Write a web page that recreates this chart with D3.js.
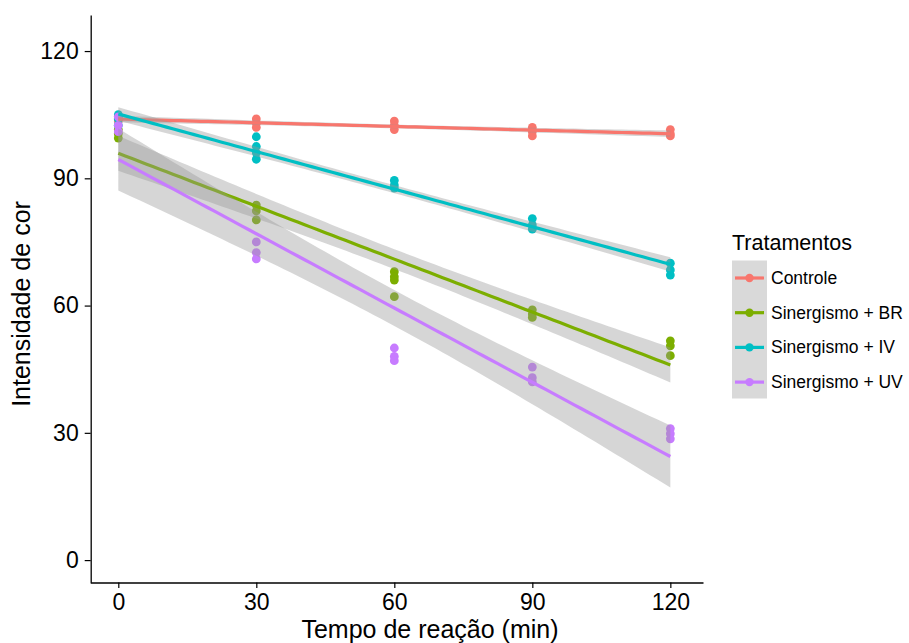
<!DOCTYPE html>
<html><head><meta charset="utf-8">
<script src="https://cdn.jsdelivr.net/npm/d3@7"></script>
<style>body{margin:0;background:#fff}svg{display:block;font-family:"Liberation Sans",Arial,sans-serif}</style>
</head><body><svg id="c" width="909" height="643"></svg>
<script>
const times = [0, 30, 60, 90, 120];
const seriesNames = ["Controle", "Sinergismo + BR", "Sinergismo + IV", "Sinergismo + UV"];
const colors = ["#F8766D", "#7CAE00", "#00BFC4", "#C77CFF"];
// replicate values per time point
const controle = [[104.5, 104, 103.5], [104, 103, 102], [103.5, 102.5, 101.5], [102, 101, 100], [101.5, 100.5, 100]];
const sinBR = [[101.5, 100.5, 99.5], [83.7, 82.3, 80.2], [68, 66.8, 66, 62.1], [59, 58, 57.2], [51.7, 50.5, 48.2]];
const sinIV = [[105, 104, 102.5], [99.8, 97.5, 96, 94.5], [89.5, 88.4, 87.7], [80.5, 79, 78], [70, 68.4, 67.2]];
const sinUV = [[104.5, 102.5, 101], [75, 72.5, 71], [50, 48, 47], [45.5, 43, 42], [31, 29.8, 28.6]];
const yTicks = [0, 30, 60, 90, 120];
const xTicks = [0, 30, 60, 90, 120];

const seriesData = [controle, sinBR, sinIV, sinUV];
const svg = d3.select("#c");
const x = d3.scaleLinear().domain([-6, 127.1]).range([90.7, 703]);
const y = d3.scaleLinear().domain([-5.4, 128.5]).range([583, 15]);

const tTable = {10:2.228,11:2.201,12:2.179,13:2.160,14:2.145,15:2.131,16:2.120,17:2.110,18:2.101,19:2.093,20:2.086};

function fit(data) {
  const pts = [];
  data.forEach((vals, i) => vals.forEach(v => pts.push([times[i], v])));
  const n = pts.length;
  const xb = d3.mean(pts, p => p[0]), yb = d3.mean(pts, p => p[1]);
  let sxx = 0, sxy = 0;
  pts.forEach(p => { sxx += (p[0]-xb)**2; sxy += (p[0]-xb)*(p[1]-yb); });
  const b = sxy / sxx, a = yb - b * xb;
  let sse = 0; pts.forEach(p => { sse += (p[1] - a - b*p[0])**2; });
  const s = Math.sqrt(sse / (n - 2));
  const t = tTable[n - 2] || 2.1;
  const grid = d3.range(0, 120.001, 1.5).map(xx => {
    const f = a + b * xx;
    const se = s * Math.sqrt(1/n + (xx-xb)**2 / sxx);
    return {x: xx, f, lo: f - t*se, hi: f + t*se};
  });
  return {pts, grid};
}
const fits = seriesData.map(fit);

// points layer
fits.forEach((f, i) => {
  svg.append("g").selectAll("circle").data(f.pts).join("circle")
    .attr("cx", d => x(d[0])).attr("cy", d => y(d[1])).attr("r", 4.4)
    .attr("fill", colors[i]);
});
// smooth layer
fits.forEach((f, i) => {
  svg.append("path").datum(f.grid)
    .attr("d", d3.area().x(d => x(d.x)).y0(d => y(d.lo)).y1(d => y(d.hi)))
    .attr("fill", "#999999").attr("fill-opacity", 0.4);
  svg.append("path").datum(f.grid)
    .attr("d", d3.line().x(d => x(d.x)).y(d => y(d.f)))
    .attr("fill", "none").attr("stroke", colors[i]).attr("stroke-width", 3.2);
});

// axes
const yAxis = svg.append("g").attr("transform", "translate(90.7,0)")
  .call(d3.axisLeft(y).tickValues(yTicks).tickSize(6).tickPadding(6).tickSizeOuter(0));
const xAxis = svg.append("g").attr("transform", "translate(0,582.5)")
  .call(d3.axisBottom(x).tickValues(xTicks).tickSize(5.5).tickPadding(6).tickSizeOuter(0));
[yAxis, xAxis].forEach(g => {
  g.select(".domain").attr("stroke", "#000").attr("stroke-width", 1.3);
  g.selectAll(".tick line").attr("stroke", "#000").attr("stroke-width", 1.2);
  g.selectAll("text").attr("fill", "#000").attr("font-size", 23).attr("font-family", "Liberation Sans, Arial, sans-serif");
});
svg.append("text").attr("x", 430).attr("y", 638).attr("text-anchor", "middle")
  .attr("font-size", 25).text("Tempo de reação (min)");
svg.append("text").attr("transform", "translate(30,304) rotate(-90)").attr("text-anchor", "middle")
  .attr("font-size", 25).text("Intensidade de cor");

// legend
const lg = svg.append("g");
lg.append("text").attr("x", 732).attr("y", 250).attr("font-size", 21.5).text("Tratamentos");
lg.append("rect").attr("x", 732).attr("y", 260.5).attr("width", 35).attr("height", 138).attr("fill", "#d9d9d9");
seriesNames.forEach((nm, i) => {
  const cy = 278 + i * 34.7;
  lg.append("line").attr("x1", 735).attr("x2", 764).attr("y1", cy).attr("y2", cy)
    .attr("stroke", colors[i]).attr("stroke-width", 3.2);
  lg.append("circle").attr("cx", 749.5).attr("cy", cy).attr("r", 4.2).attr("fill", colors[i]);
  lg.append("text").attr("x", 771).attr("y", cy + 6).attr("font-size", 17.5).text(nm);
});
</script></body></html>
